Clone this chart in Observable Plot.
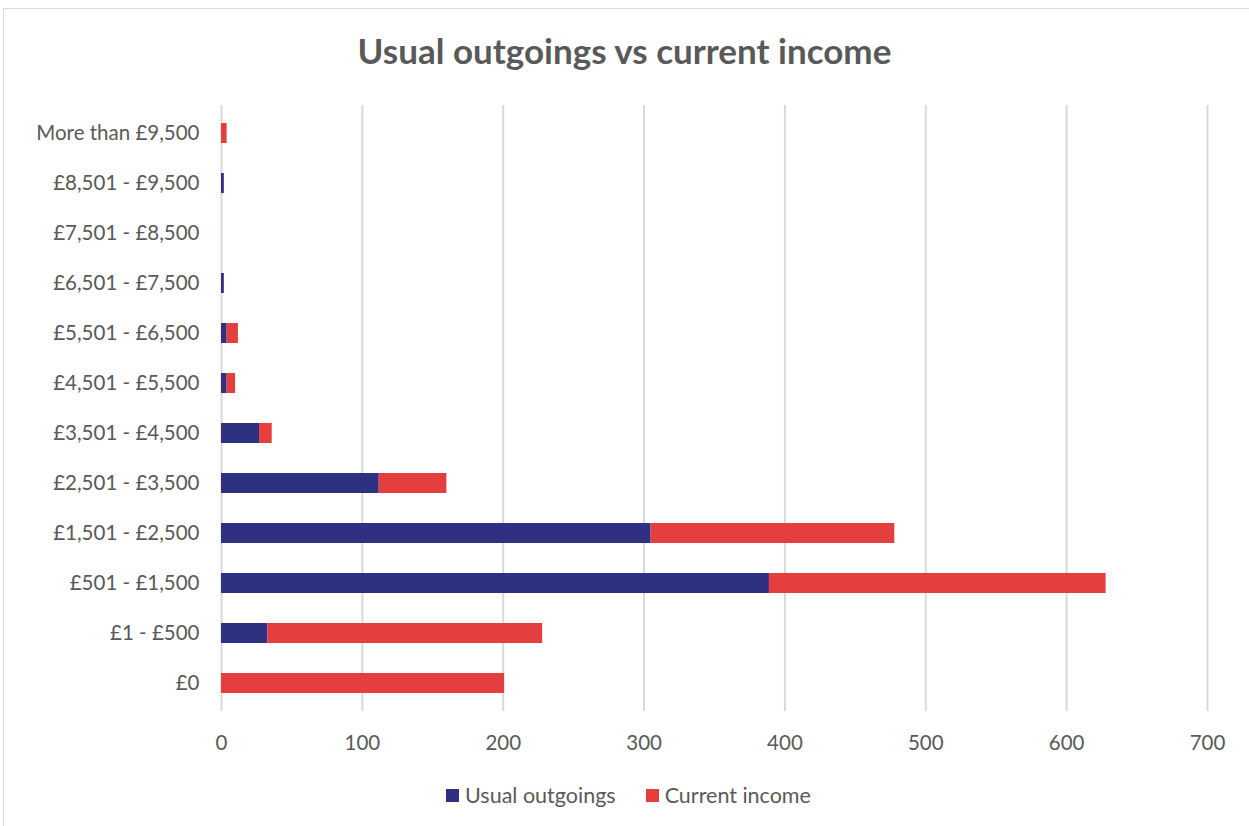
<!DOCTYPE html>
<html>
<head>
<meta charset="utf-8">
<script src="https://cdn.jsdelivr.net/npm/d3@7"></script>
<script src="https://cdn.jsdelivr.net/npm/@observablehq/plot@0.6"></script>
<style>
  html, body { margin: 0; padding: 0; background: #fff; }
  #wrap { position: relative; width: 1249px; height: 826px; overflow: hidden; font-family: Lato, "Open Sans", sans-serif; }
  #frame { position: absolute; left: 3px; top: 8px; width: 1260px; height: 830px; border: 1px solid #d9d9d9; box-sizing: border-box; }
  #title { position: absolute; left: 0; width: 1249px; top: 29px; text-align: center; font-size: 35px; font-weight: bold; color: #595959; }
  #chart { position: absolute; left: 0; top: 0; }
  #legend { position: absolute; left: 0; width: 1249px; top: 782px; display: flex; justify-content: center; gap: 30px; font-size: 21.5px; color: #595959; padding-left: 8px; box-sizing: border-box; }
  .item { display: flex; align-items: center; gap: 6px; }
  .sw { width: 13px; height: 13px; display: inline-block; }
</style>
</head>
<body>
<div id="wrap">
  <div id="frame"></div>
  <div id="chart"></div>
  <div id="title">Usual outgoings vs current income</div>
  <div id="legend"></div>
</div>
<script>
const categories = ["£0", "£1 - £500", "£501 - £1,500", "£1,501 - £2,500", "£2,501 - £3,500", "£3,501 - £4,500", "£4,501 - £5,500", "£5,501 - £6,500", "£6,501 - £7,500", "£7,501 - £8,500", "£8,501 - £9,500", "More than £9,500"];
const usualOutgoings = [0, 33, 389, 305, 112, 27, 4, 4, 2, 0, 2, 0];
const currentIncome = [201, 195, 239, 173, 48, 9, 6, 8, 0, 0, 0, 4];
const seriesNames = ["Usual outgoings", "Current income"];
const seriesColors = ["#2E3182", "#E53E3E"];
const xTicks = [0, 100, 200, 300, 400, 500, 600, 700];

const data = [];
categories.forEach((c, i) => {
  data.push({category: c, series: seriesNames[0], value: usualOutgoings[i]});
  data.push({category: c, series: seriesNames[1], value: currentIncome[i]});
});

const chart = Plot.plot({
  width: 1249,
  height: 770,
  marginTop: 105,
  marginBottom: 59,
  marginLeft: 221,
  marginRight: 42,
  style: {fontFamily: "Lato, 'Open Sans', sans-serif", fontSize: "20.5px", color: "#595959", background: "transparent"},
  x: {domain: [0, 700], ticks: xTicks, label: null},
  y: {domain: categories.slice().reverse(), label: null, paddingInner: 0.6, paddingOuter: 0.3},
  color: {domain: seriesNames, range: seriesColors},
  marks: [
    Plot.ruleX(xTicks, {stroke: "#d9d9d9", strokeWidth: 2}),
    Plot.barX(data, Plot.stackX({x: "value", y: "category", fill: "series", order: seriesNames, inset: 0})),
    Plot.axisX({ticks: xTicks, tickSize: 0, tickPadding: 24, fill: "#595959", fontSize: 20.5, label: null}),
    Plot.axisY({tickSize: 0, tickPadding: 22, fill: "#595959", fontSize: 20.5, label: null})
  ]
});
document.getElementById("chart").appendChild(chart);

const legend = document.getElementById("legend");
seriesNames.forEach((n, i) => {
  const it = document.createElement("div");
  it.className = "item";
  it.innerHTML = `<span class="sw" style="background:${seriesColors[i]}"></span><span>${n}</span>`;
  legend.appendChild(it);
});
</script>
</body>
</html>
